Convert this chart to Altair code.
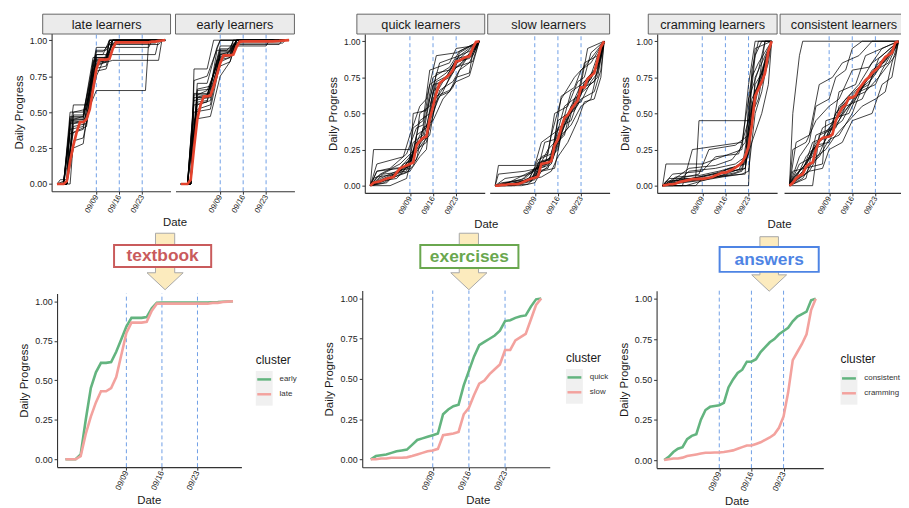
import altair as alt
import pandas as pd

# ------------------------------------------------------------------
# data
# ------------------------------------------------------------------
START = "2019-08-28"
N_DAYS = 34
MARK_DATES = ["2019-09-09", "2019-09-16", "2019-09-23"]
Y_TICKS = [0, 0.25, 0.5, 0.75, 1.0]

STRIPS = ["late learners", "early learners", "quick learners",
          "slow learners", "cramming learners", "consistent learners"]
BOXES = ["textbook", "exercises", "answers"]
CL_TEXTBOOK = ["early", "late"]
CL_EXERCISES = ["quick", "slow"]
CL_ANSWERS = ["consistent", "cramming"]

# cluster mean curves (one value per day, 08/28 .. 09/30)
LATE_MEAN = [0, 0, 0, 0.02, 0.16, 0.27, 0.36, 0.43, 0.43, 0.45, 0.52, 0.66, 0.80,
             0.865, 0.865, 0.865, 0.87, 0.94, 0.985, 0.985, 0.985, 0.985, 0.985,
             0.985, 0.985, 0.985, 0.985, 0.985, 0.985, 0.99, 0.99, 0.995, 0.998, 1.0]
EARLY_MEAN = [0, 0, 0, 0.03, 0.25, 0.45, 0.55, 0.61, 0.61, 0.615, 0.68, 0.76, 0.84,
              0.895, 0.895, 0.895, 0.90, 0.955, 0.99, 0.992, 0.992, 0.992, 0.992,
              0.992, 0.992, 0.992, 0.992, 0.992, 0.992, 0.994, 0.995, 0.997, 0.999, 1.0]
QUICK_MEAN = [0.0, 0.02, 0.025, 0.03, 0.04, 0.05, 0.055, 0.06, 0.09, 0.12, 0.13, 0.14,
              0.15, 0.16, 0.28, 0.31, 0.33, 0.34, 0.46, 0.55, 0.64, 0.71, 0.73, 0.75,
              0.77, 0.80, 0.86, 0.865, 0.88, 0.89, 0.895, 0.95, 0.995, 1.0]
SLOW_MEAN = [0.0, 0.0, 0.005, 0.005, 0.01, 0.01, 0.01, 0.012, 0.02, 0.03, 0.04, 0.05,
             0.055, 0.065, 0.15, 0.155, 0.16, 0.17, 0.28, 0.32, 0.40, 0.47, 0.49, 0.53,
             0.56, 0.59, 0.68, 0.68, 0.74, 0.76, 0.78, 0.87, 0.96, 1.0]
CONS_MEAN = [0.0, 0.02, 0.05, 0.07, 0.08, 0.13, 0.15, 0.16, 0.25, 0.31, 0.33, 0.335,
             0.34, 0.355, 0.45, 0.50, 0.54, 0.56, 0.61, 0.61, 0.625, 0.67, 0.70, 0.73,
             0.75, 0.78, 0.80, 0.82, 0.86, 0.89, 0.905, 0.92, 0.99, 1.0]
CRAM_MEAN = [0.0, 0.005, 0.01, 0.01, 0.015, 0.025, 0.03, 0.035, 0.04, 0.045, 0.045,
             0.047, 0.047, 0.05, 0.055, 0.06, 0.07, 0.08, 0.09, 0.09, 0.10, 0.11, 0.125,
             0.14, 0.16, 0.20, 0.27, 0.42, 0.62, 0.67, 0.72, 0.78, 0.93, 1.0]

# individual learners (day index, progress), a readable sample of each bundle
LATE_TRACES = [
    [(0, 0), (2, 0), (4, .45), (8, .45), (12, .87), (15, .87), (17, 1), (33, 1)],
    [(0, 0), (3, 0), (5, .50), (9, .52), (12, .90), (14, .90), (16, 1), (33, 1)],
    [(0, 0), (2, .02), (4, .35), (8, .38), (11, .80), (15, .82), (17, 1), (33, 1)],
    [(0, 0), (3, 0), (5, .42), (8, .43), (12, .65), (27, .65), (28, 1), (33, 1)],
    [(0, 0), (2, 0), (5, .55), (9, .55), (12, .93), (15, .93), (16, .97), (31, .97), (32, 1), (33, 1)],
    [(0, 0), (4, 0), (5, .30), (8, .32), (12, .75), (15, .90), (17, .90), (30, .90), (31, 1), (33, 1)],
    [(0, 0), (1, .03), (3, .03), (4, .47), (8, .47), (11, .85), (15, .85), (16, 1), (33, 1)],
    [(0, 0), (3, 0), (5, .40), (9, .42), (12, .88), (16, .88), (18, 1), (33, 1)],
    [(0, 0), (2, 0), (4, .50), (8, .50), (10, .70), (12, .95), (15, .95), (17, 1), (33, 1)],
    [(0, 0), (3, 0), (5, .25), (8, .28), (11, .78), (15, .80), (17, .95), (28, .95), (29, 1), (33, 1)],
    [(0, 0), (2, 0), (4, .38), (8, .40), (12, .86), (15, .86), (17, 1), (33, 1)],
    [(0, 0), (3, 0), (4, .44), (9, .45), (12, .82), (14, .84), (17, .86), (31, .86), (32, 1), (33, 1)],
    [(0, 0), (2, 0), (4, .42), (9, .44), (12, .84), (15, .86), (17, 1), (33, 1)],
    [(0, 0), (3, 0), (5, .48), (8, .48), (11, .88), (15, .88), (16, 1), (33, 1)],
    [(0, 0), (2, 0), (5, .36), (9, .40), (12, .90), (15, .90), (18, 1), (33, 1)],
    [(0, 0), (3, 0), (4, .46), (8, .46), (12, .83), (15, .85), (17, .98), (30, .98), (31, 1), (33, 1)],
    [(0, 0), (2, .01), (4, .43), (9, .44), (11, .86), (15, .87), (16, 1), (33, 1)],
    [(0, 0), (3, 0), (5, .45), (8, .47), (12, .92), (14, .92), (17, 1), (33, 1)],
]
EARLY_TRACES = [
    [(0, 0), (2, 0), (4, .60), (8, .62), (12, .90), (15, .90), (17, 1), (33, 1)],
    [(0, 0), (3, 0), (5, .70), (8, .70), (11, .95), (12, 1), (33, 1)],
    [(0, 0), (2, 0), (4, .50), (9, .52), (12, .85), (15, .88), (17, 1), (33, 1)],
    [(0, 0), (3, 0), (4, .80), (8, .80), (10, 1), (33, 1)],
    [(0, 0), (2, 0), (5, .55), (9, .58), (12, .92), (15, .92), (16, .97), (30, .97), (31, 1), (33, 1)],
    [(0, 0), (3, 0), (5, .62), (8, .65), (12, .88), (14, .90), (17, 1), (33, 1)],
    [(0, 0), (2, 0), (4, .45), (9, .47), (12, .75), (15, .85), (17, 1), (33, 1)],
    [(0, 0), (3, 0), (5, .65), (9, .66), (11, .93), (15, .93), (16, 1), (33, 1)],
    [(0, 0), (2, 0), (4, .58), (8, .60), (12, .96), (16, .96), (18, 1), (33, 1)],
    [(0, 0), (3, 0), (4, .72), (8, .75), (12, 1), (33, 1)],
    [(0, 0), (2, 0), (5, .57), (8, .58), (12, .87), (15, .90), (16, .96), (26, .96), (27, 1), (33, 1)],
    [(0, 0), (3, 0), (5, .60), (9, .60), (12, .82), (15, .85), (17, 1), (33, 1)],
    [(0, 0), (2, 0), (4, .62), (8, .62), (12, .91), (15, .91), (17, 1), (33, 1)],
    [(0, 0), (3, 0), (5, .66), (9, .68), (12, .94), (15, .94), (16, 1), (33, 1)],
    [(0, 0), (2, 0), (4, .55), (8, .57), (11, .86), (15, .88), (17, 1), (33, 1)],
    [(0, 0), (3, 0), (4, .63), (9, .63), (12, .89), (15, .89), (18, 1), (33, 1)],
    [(0, 0), (2, 0), (5, .60), (8, .61), (12, .93), (14, .93), (16, .98), (31, .98), (32, 1), (33, 1)],
    [(0, 0), (3, 0), (5, .52), (9, .55), (12, .90), (15, .92), (17, 1), (33, 1)],
]
QUICK_TRACES = [
    [(0, 0), (1, .25), (12, .25), (13, .40), (16, .45), (18, .80), (24, .85), (26, .95), (32, .97), (33, 1)],
    [(0, 0), (3, .05), (8, .10), (12, .12), (14, .35), (17, .40), (19, .65), (23, .75), (26, .88), (30, .90), (33, 1)],
    [(0, 0), (5, .02), (10, .15), (13, .18), (15, .50), (18, .55), (20, .72), (25, .78), (27, .92), (33, 1)],
    [(0, 0), (2, .10), (9, .12), (12, .20), (14, .25), (17, .30), (19, .55), (22, .65), (26, .85), (31, .90), (33, 1)],
    [(0, 0), (4, .08), (11, .10), (13, .30), (16, .35), (18, .60), (21, .85), (27, .90), (32, .95), (33, 1)],
    [(0, 0), (6, 0), (11, .05), (13, .25), (15, .30), (19, .70), (22, .72), (25, .80), (28, .85), (33, 1)],
    [(0, 0), (2, .15), (10, .20), (12, .35), (15, .55), (17, .60), (20, .90), (26, .92), (33, 1)],
    [(0, 0), (3, .03), (8, .05), (12, .15), (14, .18), (16, .40), (19, .45), (22, .60), (25, .68), (27, .80), (30, .85), (33, 1)],
    [(0, 0), (1, .05), (7, .12), (12, .13), (13, .50), (17, .52), (19, .75), (24, .82), (27, .93), (33, 1)],
    [(0, 0), (4, .02), (9, .08), (12, .10), (15, .20), (17, .25), (18, .45), (21, .62), (24, .65), (26, .75), (30, .78), (31, .92), (33, 1)],
    [(0, 0), (2, .10), (6, .12), (11, .22), (14, .40), (16, .42), (18, .70), (23, .78), (26, .86), (29, .88), (33, 1)],
    [(0, 0), (5, .05), (10, .10), (13, .20), (16, .30), (18, .35), (20, .62), (24, .66), (26, .72), (30, .76), (33, 1)],
    [(0, 0), (3, .04), (9, .10), (12, .14), (14, .30), (17, .33), (19, .60), (22, .72), (26, .86), (30, .88), (33, 1)],
    [(0, 0), (2, .06), (8, .08), (12, .18), (15, .35), (18, .45), (20, .70), (24, .75), (27, .88), (33, 1)],
    [(0, 0), (4, .03), (10, .12), (13, .22), (16, .32), (18, .50), (21, .70), (25, .80), (28, .86), (33, 1)],
    [(0, 0), (1, .02), (7, .06), (12, .16), (14, .28), (17, .36), (19, .58), (23, .70), (26, .82), (31, .86), (33, 1)],
    [(0, 0), (3, .08), (9, .15), (13, .24), (15, .45), (18, .50), (20, .78), (24, .80), (27, .90), (33, 1)],
    [(0, 0), (5, .04), (11, .09), (13, .14), (16, .28), (18, .40), (21, .66), (25, .72), (28, .84), (33, 1)],
]
SLOW_TRACES = [
    [(0, 0), (1, .14), (12, .14), (14, .30), (17, .35), (20, .60), (24, .75), (28, .85), (33, 1)],
    [(0, 0), (6, 0), (10, .05), (12, .06), (14, .15), (17, .20), (19, .45), (22, .50), (26, .70), (30, .78), (33, 1)],
    [(0, 0), (4, .02), (11, .10), (13, .12), (16, .25), (18, .30), (21, .55), (25, .62), (27, .85), (31, .90), (33, 1)],
    [(0, 0), (8, 0), (12, .02), (14, .10), (18, .12), (20, .35), (23, .42), (26, .55), (29, .60), (31, .80), (33, 1)],
    [(0, 0), (3, .05), (9, .07), (12, .10), (14, .20), (16, .22), (18, .50), (22, .55), (25, .72), (27, .75), (29, .92), (33, 1)],
    [(0, 0), (10, .01), (13, .08), (17, .15), (19, .30), (22, .40), (24, .60), (28, .68), (31, .75), (33, 1)],
    [(0, 0), (2, .02), (8, .04), (12, .12), (15, .13), (17, .35), (20, .40), (23, .65), (26, .70), (28, .95), (33, 1)],
    [(0, 0), (5, 0), (11, .03), (13, .15), (16, .18), (19, .25), (21, .48), (24, .52), (26, .60), (30, .65), (32, .80), (33, 1)],
    [(0, 0), (1, .08), (9, .10), (13, .12), (15, .30), (18, .32), (20, .62), (24, .68), (26, .80), (29, .85), (33, 1)],
    [(0, 0), (7, .02), (12, .05), (14, .06), (17, .10), (19, .20), (22, .30), (25, .45), (27, .58), (30, .60), (32, .75), (33, 1)],
    [(0, 0), (3, 0), (10, .03), (13, .18), (17, .22), (19, .40), (23, .45), (26, .65), (28, .70), (31, .90), (33, 1)],
    [(0, 0), (6, .02), (12, .04), (13, .10), (16, .12), (18, .28), (21, .35), (23, .55), (26, .58), (29, .72), (31, .78), (33, 1)],
    [(0, 0), (5, .01), (11, .05), (13, .14), (16, .16), (18, .30), (21, .45), (24, .58), (26, .66), (29, .74), (31, .85), (33, 1)],
    [(0, 0), (3, .02), (10, .04), (13, .16), (17, .18), (19, .33), (22, .50), (25, .60), (27, .70), (30, .78), (33, 1)],
    [(0, 0), (7, .01), (12, .06), (14, .14), (17, .16), (19, .28), (21, .42), (24, .55), (26, .68), (29, .74), (32, .88), (33, 1)],
    [(0, 0), (2, .01), (9, .05), (13, .13), (16, .15), (18, .26), (22, .48), (25, .56), (27, .72), (30, .80), (33, 1)],
    [(0, 0), (6, .01), (12, .07), (14, .17), (17, .19), (20, .36), (23, .52), (26, .63), (28, .75), (31, .82), (33, 1)],
    [(0, 0), (4, .01), (11, .04), (13, .12), (16, .14), (19, .32), (21, .46), (24, .54), (26, .67), (30, .72), (32, .90), (33, 1)],
]
CRAM_TRACES = [
    [(0, 0), (2, .05), (10, .05), (11, .45), (26, .45), (28, .90), (30, 1), (33, 1)],
    [(0, 0), (3, 0), (8, .10), (16, .12), (22, .15), (25, .20), (27, .60), (29, .70), (31, 1), (33, 1)],
    [(0, 0), (1, .15), (12, .15), (18, .20), (24, .25), (26, .70), (28, 1), (33, 1)],
    [(0, 0), (26, 0), (27, .55), (29, .70), (31, .85), (33, 1)],
    [(0, 0), (4, .02), (9, .05), (15, .08), (21, .10), (25, .12), (27, .40), (28, .75), (32, .95), (33, 1)],
    [(0, 0), (5, .05), (11, .08), (14, .25), (22, .28), (26, .35), (27, .80), (29, 1), (33, 1)],
    [(0, 0), (7, 0), (13, .04), (18, .06), (24, .08), (26, .10), (28, .50), (30, .65), (32, .90), (33, 1)],
    [(0, 0), (2, .02), (8, .12), (16, .14), (21, .18), (25, .30), (26, .50), (28, .95), (33, 1)],
    [(0, 0), (10, 0), (12, .05), (19, .07), (25, .08), (26, .60), (29, .80), (31, 1), (33, 1)],
    [(0, 0), (3, .08), (12, .10), (16, .20), (23, .22), (26, .45), (28, .60), (30, .80), (33, 1)],
    [(0, 0), (6, 0), (9, .25), (18, .28), (24, .30), (27, .75), (29, .85), (33, 1)],
    [(0, 0), (1, .03), (14, .05), (20, .12), (25, .15), (27, .30), (30, .50), (32, .70), (33, 1)],
    [(0, 0), (3, .02), (10, .04), (16, .06), (22, .09), (25, .12), (27, .45), (29, .68), (31, .80), (33, 1)],
    [(0, 0), (2, .03), (9, .05), (15, .08), (21, .12), (25, .16), (26, .35), (28, .62), (30, .75), (33, 1)],
    [(0, 0), (5, .04), (12, .06), (18, .09), (23, .11), (26, .22), (27, .55), (29, .72), (32, .90), (33, 1)],
    [(0, 0), (1, .01), (8, .03), (14, .05), (20, .07), (24, .10), (26, .28), (28, .70), (30, .78), (33, 1)],
    [(0, 0), (4, .06), (11, .07), (17, .10), (22, .13), (25, .18), (27, .50), (29, .60), (31, .88), (33, 1)],
    [(0, 0), (6, .02), (13, .04), (19, .08), (24, .12), (26, .40), (28, .66), (30, .70), (32, .85), (33, 1)],
]
CONS_TRACES = [
    [(0, 0), (1, .50), (3, .90), (4, 1), (33, 1)],
    [(0, 0), (3, .20), (6, .30), (8, .55), (12, .60), (14, .75), (17, .80), (19, .95), (22, 1), (33, 1)],
    [(0, 0), (4, .10), (7, .30), (12, .35), (14, .50), (17, .60), (21, .70), (25, .85), (28, .90), (33, 1)],
    [(0, 0), (2, .05), (5, .20), (9, .30), (12, .40), (16, .50), (20, .60), (24, .75), (27, .85), (31, .92), (33, 1)],
    [(0, 0), (1, .10), (10, .15), (11, .45), (18, .50), (21, .65), (26, .70), (28, .80), (33, 1)],
    [(0, 0), (5, .05), (8, .35), (13, .40), (15, .65), (20, .70), (23, .90), (28, .95), (33, 1)],
    [(0, 0), (3, .15), (7, .20), (10, .40), (14, .45), (17, .55), (22, .60), (26, .80), (30, .85), (33, 1)],
    [(0, 0), (6, .10), (10, .12), (12, .25), (16, .30), (19, .45), (25, .50), (28, .70), (31, .75), (33, 1)],
    [(0, 0), (2, .30), (6, .35), (9, .70), (13, .75), (16, .85), (21, .90), (25, 1), (33, 1)],
    [(0, 0), (4, .05), (8, .20), (11, .25), (14, .35), (18, .45), (22, .55), (26, .60), (29, .65), (31, .85), (33, 1)],
    [(0, 0), (1, .25), (5, .30), (8, .45), (12, .55), (15, .60), (19, .80), (24, .82), (28, .95), (33, 1)],
    [(0, 0), (7, 0), (9, .35), (14, .40), (18, .60), (23, .65), (27, .75), (32, .90), (33, 1)],
    [(0, 0), (2, .08), (5, .15), (8, .30), (11, .33), (14, .50), (17, .58), (20, .62), (24, .75), (27, .82), (30, .90), (33, 1)],
    [(0, 0), (3, .10), (6, .18), (9, .32), (13, .36), (15, .55), (18, .62), (22, .70), (26, .80), (29, .88), (33, 1)],
    [(0, 0), (1, .05), (4, .12), (8, .28), (12, .30), (14, .42), (17, .52), (21, .66), (25, .74), (28, .84), (32, .95), (33, 1)],
    [(0, 0), (2, .04), (6, .10), (9, .22), (12, .38), (16, .45), (19, .58), (23, .72), (26, .78), (30, .92), (33, 1)],
    [(0, 0), (4, .08), (7, .25), (10, .28), (13, .40), (16, .55), (20, .65), (24, .70), (27, .88), (33, 1)],
    [(0, 0), (5, .12), (9, .20), (12, .32), (15, .35), (19, .50), (22, .68), (25, .80), (29, .86), (33, 1)],
]

# ------------------------------------------------------------------
# layout (page pixels) and styles
# ------------------------------------------------------------------
W, H = 901, 500
M = 8                      # page margin
FONT = "Liberation Sans"
DASH_COLOR = "#6F9FE6"
RED = "#E4432D"
GREEN = "#63B47F"
PINK = "#F3A29E"
ARROW_FILL = "#FCEBBE"
ARROW_EDGE = "#A8A8A8"
BOX_COLORS = ["#C95B5C", "#6AA74F", "#4E84E4"]
TXT = "#222222"

DAY_MS = 86400000
T0 = int(pd.Timestamp(START, tz="UTC").value // 10**6)
XDOM = [T0 - 1.65 * DAY_MS, T0 + (N_DAYS - 1 + 1.65) * DAY_MS]
TICK_DT = [alt.DateTime(year=2019, month=9, date=d, utc=True) for d in (9, 16, 23)]


def P(v):
    return v - M


def day(d):
    return (pd.Timestamp(START) + pd.Timedelta(days=d)).strftime("%Y-%m-%d")


def mean_frame(vals, cluster=None):
    df = pd.DataFrame({"date": [day(i) for i in range(len(vals))], "value": vals})
    if cluster is not None:
        df["cluster"] = cluster
    return df


def trace_frame(traces):
    rows = []
    for i, tr in enumerate(traces):
        for d, v in tr:
            rows.append({"trace": i, "date": day(d), "value": v})
    return pd.DataFrame(rows)


RULES = pd.DataFrame({"date": MARK_DATES, "value": -0.05, "value2": 1.05})


def encs(xr, yr, show_y, lab_size, angle, xtitle=None):
    xkw = dict(orient="bottom", offset=P(yr[0]) - H, values=TICK_DT,
               labelExpr="utcFormat(datum.value, '%m/%d')", labelAngle=angle,
               labelFontSize=lab_size, labelPadding=1, tickSize=3)
    if xtitle is not None:
        xkw.update(title="Date", titleX=P(xtitle[0]), titleY=xtitle[1],
                   titleBaseline="middle", titleFontSize=11.5)
    else:
        xkw.update(title=None)
    X = alt.X("date:T", axis=alt.Axis(**xkw),
              scale=alt.Scale(type="utc", domain=XDOM, nice=False,
                              range=[P(xr[0]), P(xr[1])]))
    if show_y:
        yax = alt.Axis(orient="left", offset=-P(xr[0]), values=Y_TICKS, format=".2f",
                       labelFontSize=show_y, labelPadding=2, tickSize=3,
                       title="Daily Progress", titleFontSize=11.5, titlePadding=5)
    else:
        yax = None
    Y = alt.Y("value:Q", axis=yax,
              scale=alt.Scale(domain=[-0.05, 1.05], nice=False, zero=False,
                              range=[P(yr[0]), P(yr[1])]))
    return X, Y


def top_panel(mean, traces, xr, yr, show_y, xtitle=None):
    X, Y = encs(xr, yr, show_y, 7.8, -60, xtitle)
    rules = alt.Chart(RULES).mark_rule(color=DASH_COLOR, strokeDash=[4, 3],
                                       strokeWidth=1).encode(x=X, y=Y, y2="value2")
    lines = alt.Chart(trace_frame(traces)).mark_line(
        color="black", strokeWidth=1, opacity=0.75).encode(x=X, y=Y, detail="trace:N")
    red = alt.Chart(mean_frame(mean)).mark_line(color=RED, strokeWidth=2.7).encode(x=X, y=Y)
    return alt.layer(rules, lines, red)


def bottom_panel(means, names, xr, yr, xtitle, leg):
    X, Y = encs(xr, yr, 9, 8.2, -65, xtitle)
    df = pd.concat([mean_frame(m, n) for m, n in zip(means, names)])
    rules = alt.Chart(RULES).mark_rule(color=DASH_COLOR, strokeDash=[4, 3],
                                       strokeWidth=1).encode(x=X, y=Y, y2="value2")
    lines = alt.Chart(df).mark_line(strokeWidth=2.6).encode(
        x=X, y=Y,
        color=alt.Color("cluster:N", scale=alt.Scale(domain=names, range=[GREEN, PINK]),
                        legend=alt.Legend(orient="none", legendX=P(leg[0]), legendY=P(leg[1]),
                                          title="cluster", titleFontSize=12,
                                          titleFontWeight="normal", titleColor="#1a1a1a",
                                          titlePadding=4, labelFontSize=8,
                                          labelColor="#333333", symbolType="stroke",
                                          symbolSize=196, symbolStrokeWidth=2.5,
                                          rowPadding=1, labelOffset=7, padding=0)))
    return alt.layer(rules, lines)


ONE = pd.DataFrame({"k": [0]})


def rect(x0, x1, y0, y1, fill, stroke=None, sw=0):
    kw = dict(fill=fill, strokeWidth=sw)
    if stroke is not None:
        kw["stroke"] = stroke
    return alt.Chart(ONE).mark_rect(**kw).encode(
        x=alt.value(P(x0)), x2=alt.value(P(x1)), y=alt.value(P(y0)), y2=alt.value(P(y1)))


def label(txt, x, y, size, color, weight="normal"):
    return alt.Chart(pd.DataFrame({"t": [txt]})).mark_text(
        font=FONT, fontSize=size, color=color, fontWeight=weight,
        align="center", baseline="middle").encode(
        text="t:N", x=alt.value(P(x)), y=alt.value(P(y)))


ARROW = "M -0.34 -1 L 0.34 -1 L 0.34 0.4 L 0.64 0.4 L 0 1 L -0.64 0.4 L -0.34 0.4 Z"


def arrow(cx, cy, size):
    return alt.Chart(ONE).mark_point(shape=ARROW, size=size, filled=True, fill=ARROW_FILL,
                                     stroke=ARROW_EDGE, strokeWidth=1, opacity=1).encode(
        x=alt.value(P(cx)), y=alt.value(P(cy)))


TOP_Y1 = (190.6, 31.0)
TOP_Y2 = (192.3, 32.0)

layers = []
# legend key backgrounds
for x0, y0 in [(258, 372), (571, 370), (848, 371)]:
    layers.append(rect(x0, x0 + 17, y0, y0 + 35, "#F0F0F0"))

# strips
strip_pos = [(43, 172), (177, 297), (360, 489), (492, 615), (654, 784), (787, 916)]
for (s0, s1), name in zip(strip_pos, STRIPS):
    layers.append(rect(s0, s1, 12, 32, "#EBEBEB", "#555555", 0.9))
    layers.append(label(name, (s0 + s1) / 2, 22.5, 12.8, "#1a1a1a"))

# arrows and boxes
layers.append(arrow(166.5, 261.5, 3249))
layers.append(arrow(473, 261.5, 3249))
layers.append(arrow(776, 264, 3025))
box_pos = [(115, 213, 245, 267), (424, 523, 245, 268), (726, 826, 247, 272)]
for (b0, b1, c0, c1), name, col in zip(box_pos, BOXES, BOX_COLORS):
    layers.append(rect(b0, b1, c0, c1, "white", col, 2))
    layers.append(label(name, (b0 + b1) / 2, (c0 + c1) / 2 + 0.5, 17.5, col, "bold"))

# top panels
layers.append(top_panel(LATE_MEAN, LATE_TRACES, (52, 172), TOP_Y1, 9, (176, 32)))
layers.append(top_panel(EARLY_MEAN, EARLY_TRACES, (177, 297), TOP_Y1, 0))
layers.append(top_panel(QUICK_MEAN, QUICK_TRACES, (368, 489), TOP_Y2, 8.5, (490, 32)))
layers.append(top_panel(SLOW_MEAN, SLOW_TRACES, (494, 615), TOP_Y2, 0))
layers.append(top_panel(CRAM_MEAN, CRAM_TRACES, (663, 784), TOP_Y2, 8.5, (786, 32)))
layers.append(top_panel(CONS_MEAN, CONS_TRACES, (791, 912), TOP_Y2, 0))

# bottom panels
layers.append(bottom_panel([EARLY_MEAN, LATE_MEAN], CL_TEXTBOOK, (57.5, 243.5),
                           (469, 293.7), (150, 34), (258, 356)))
layers.append(bottom_panel([QUICK_MEAN, SLOW_MEAN], CL_EXERCISES, (365.4, 554.6),
                           (469.2, 290.8), (482, 34), (571, 354)))
layers.append(bottom_panel([CONS_MEAN, CRAM_MEAN], CL_ANSWERS, (662.4, 830.6),
                           (470, 291), (743, 34), (848, 355)))

chart = alt.layer(*layers).resolve_scale(
    x="independent", y="independent", color="independent"
).properties(
    width=W, height=H, padding=0, autosize=alt.AutoSizeParams(type="none")
).configure(font=FONT).configure_view(stroke="transparent").configure_axis(
    grid=False, domainColor="#333333", domainWidth=1.1, tickColor="#333333",
    tickWidth=1, labelColor=TXT, labelFont=FONT, titleFont=FONT,
    titleFontWeight="normal", titleColor="#1a1a1a"
)

chart.save("out.html", embed_options={"renderer": "svg", "actions": False})
